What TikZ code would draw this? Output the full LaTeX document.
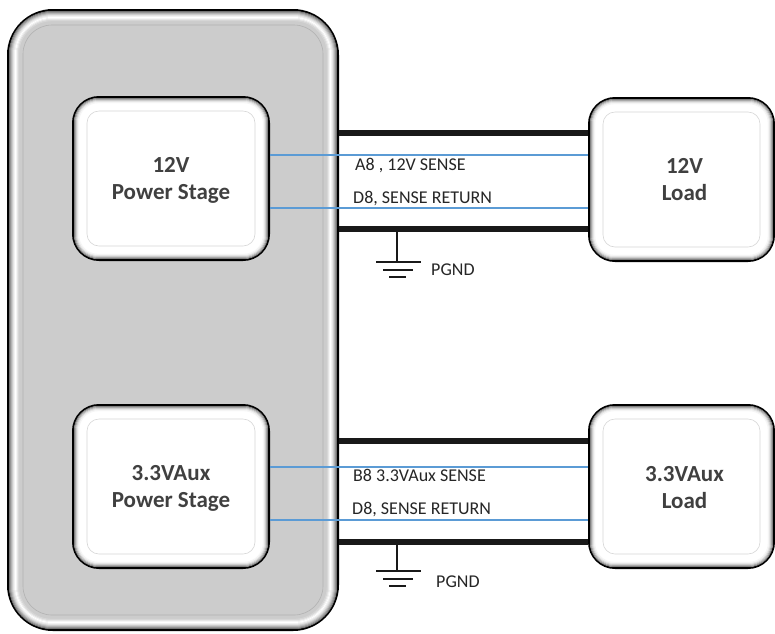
\documentclass[tikz,border=0pt]{standalone}
\usepackage{fontspec}
\setmainfont{Carlito}
\usetikzlibrary{calc}
\definecolor{panelgray}{HTML}{CCCCCC}
\definecolor{txtgray}{HTML}{404040}
\definecolor{sensebl}{HTML}{5B9BD5}
\newcommand\bevelrings[3]{%
  \foreach \d/\c in {#3} {%
    \draw[\c, line width=1.15pt, rounded corners={#2-\d}]
      ($(#1.north west)+(\d,\d)$) rectangle ($(#1.south east)-(\d,\d)$);
  }%
}
\begin{document}
\begin{tikzpicture}[x=1pt,y=-1pt,
  panel/.style={draw=black, line width=2pt, fill=panelgray, rounded corners=45,
    minimum width=330, minimum height=620, inner sep=0pt},
  blockbox/.style={draw=black, line width=2pt, fill=white, rounded corners=26,
    minimum width=196, minimum height=163, inner sep=0pt},
  loadbox/.style={blockbox, minimum width=185},
  blocktext/.style={align=center, inner sep=0pt, text=txtgray,
    font=\fontsize{23}{27}\selectfont\bfseries},
  bus/.style={line width=5.5pt, draw=black!90},
  sense/.style={line width=1.4pt, draw=sensebl},
  sig/.style={anchor=west, inner sep=0pt, text=black!85, font=\fontsize{18}{20}\selectfont},
  gnd/.style={line width=2pt, draw=black!90}]
\useasboundingbox (0,0) rectangle (775,633);
\fill[white] (0,0) rectangle (775,633);

% main panel
\node[panel] (main) at (173,320) {};
\bevelrings{main}{45}{2.6/black!55,3.6/black!42,4.6/black!30,5.6/black!20,6.6/black!11,7.6/black!5,8.6/white,9.6/black!4,10.6/black!10,11.6/black!16}
\draw[black!30, line width=0.6pt, rounded corners=29]
  ($(main.north west)+(16,16)$) rectangle ($(main.south east)-(16,16)$);

% blocks
\node[blockbox] (ps12) at (171,178.5) {};
\node[blockbox] (ps33) at (171,486.5) {};
\node[loadbox] (ld12) at (681.5,179.5) {};
\node[loadbox] (ld33) at (681.5,486.5) {};
\foreach \b in {ps12,ps33,ld12,ld33} {
  \bevelrings{\b}{26}{2.6/black!50,3.6/black!34,4.6/black!20,5.6/black!10,6.6/black!4}
  \draw[black!16, line width=0.6pt, rounded corners=12]
    ($(\b.north west)+(15,15)$) rectangle ($(\b.south east)-(15,15)$);
}
\node[blocktext] (ps12t) at ($(ps12.center)+(0,1.5)$) {12V\\Power Stage};
\node[blocktext] (ps33t) at ($(ps33.center)+(0,1.5)$) {3.3VAux\\Power Stage};
\node[blocktext] (ld12t) at ($(ld12.center)+(3,0.5)$) {12V\\Load};
\node[blocktext] (ld33t) at ($(ld33.center)+(3,1.5)$) {3.3VAux\\Load};

% row coordinates
\coordinate (ta) at (0,133);
\coordinate (tb) at (0,155);
\coordinate (tc) at (0,208);
\coordinate (td) at (0,229);
\coordinate (ba) at (0,441);
\coordinate (bb) at (0,467);
\coordinate (bc) at (0,520);
\coordinate (bd) at (0,542);

% buses
\draw[bus] (main.east |- ta) -- (ld12.west |- ta);
\draw[bus] (main.east |- td) -- (ld12.west |- td);
\draw[bus] (main.east |- ba) -- (ld33.west |- ba);
\draw[bus] (main.east |- bd) -- (ld33.west |- bd);

% sense lines
\draw[sense] (ps12.east |- tb) -- (ld12.west |- tb);
\draw[sense] (ps12.east |- tc) -- (ld12.west |- tc);
\draw[sense] (ps33.east |- bb) -- (ld33.west |- bb);
\draw[sense] (ps33.east |- bc) -- (ld33.west |- bc);

% labels
\node[sig] (la) at (355,165) {A8 , 12V SENSE};
\node[sig] (lb) at (353,198) {D8, SENSE RETURN};
\node[sig] (lc) at (353,475) {B8 3.3VAux SENSE};
\node[sig] (ld) at (352,509) {D8, SENSE RETURN};

% grounds
\coordinate (g1) at (397,229);
\coordinate (g1b) at (397,262);
\draw[gnd] (g1) -- (g1b);
\draw[gnd] ($(g1b)+(-21,0)$) -- ($(g1b)+(24,0)$);
\draw[gnd] ($(g1b)+(-14,7.5)$) -- ($(g1b)+(16,7.5)$);
\draw[gnd] ($(g1b)+(-8,15)$) -- ($(g1b)+(9,15)$);
\node[sig] (p1) at (431,270) {PGND};

\coordinate (g2) at (397,542);
\coordinate (g2b) at (397,571);
\draw[gnd] (g2) -- (g2b);
\draw[gnd] ($(g2b)+(-21,0)$) -- ($(g2b)+(24,0)$);
\draw[gnd] ($(g2b)+(-14,7.5)$) -- ($(g2b)+(16,7.5)$);
\draw[gnd] ($(g2b)+(-8,15)$) -- ($(g2b)+(9,15)$);
\node[sig] (p2) at (436,582) {PGND};
\end{tikzpicture}
\end{document}
